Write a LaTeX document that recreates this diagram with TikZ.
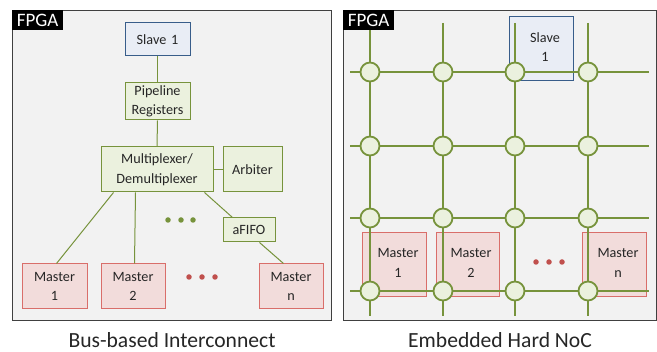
\documentclass[tikz,border=0pt]{standalone}
\usepackage{fontspec}
\setmainfont{Carlito}
\definecolor{gline}{RGB}{119,147,60}
\definecolor{gfill}{RGB}{235,241,222}
\definecolor{bdraw}{RGB}{56,93,138}
\definecolor{bfill}{RGB}{233,237,245}
\definecolor{rdraw}{RGB}{217,110,106}
\definecolor{rfill}{RGB}{242,220,219}
\definecolor{rdot}{RGB}{192,80,77}
\definecolor{panelbg}{RGB}{242,242,242}
\begin{document}
\begin{tikzpicture}[x=1pt,y=-1pt,
  panel/.style={draw=black!75, line width=1.2pt, fill=panelbg, anchor=north west, inner sep=0pt},
  tag/.style={fill=black, text=white, font=\fontsize{19}{19}\selectfont, inner sep=0pt, minimum width=51pt, minimum height=20pt, anchor=north west},
  blk/.style={inner sep=0pt, align=center, font=\fontsize{14.2}{19.5}\selectfont, line width=1pt, text=black!85},
  gbox/.style={blk, draw=gline, fill=gfill},
  bbox/.style={blk, draw=bdraw, fill=bfill},
  rbox/.style={blk, draw=rdraw, fill=rfill},
  link/.style={draw=gline, line width=1pt},
  gridline/.style={draw=gline, line width=1.3pt},
  router/.style={circle, draw=gline, fill=gfill, line width=1.8pt, minimum size=19pt, inner sep=0pt},
  gdot/.style={circle, fill=gline, minimum size=5.5pt, inner sep=0pt},
  rdotn/.style={circle, fill=rdot, minimum size=5.5pt, inner sep=0pt},
  captxt/.style={font=\fontsize{21.6}{21.6}\selectfont, text=black!85}
]
\useasboundingbox (0,0) rectangle (657,352);
\fill[white] (0,0) rectangle (657,352);

% ---------- left panel ----------
\node[panel, minimum width=319pt, minimum height=310pt] (P1) at (12,10) {};
\node[tag] (T1) at (12,10) {FPGA};

\node[bbox, minimum width=65pt, minimum height=33pt] (S1) at (157.5,39.5) {Slave\,\,1};
\node[gbox, minimum width=65pt, minimum height=37pt] (PR) at (157.5,101.5) {Pipeline\\Registers};
\node[gbox, minimum width=112pt, minimum height=45pt] (MX) at (157,169.5) {Multiplexer/\\Demultiplexer};
\node[gbox, minimum width=59pt, minimum height=45pt] (AR) at (252.5,169.5) {Arbiter};
\node[gbox, minimum width=52pt, minimum height=24pt] (AF) at (249,230) {aFIFO};
\node[rbox, minimum width=65pt, minimum height=45pt] (M1) at (54.5,286.5) {Master\\1};
\node[rbox, minimum width=64pt, minimum height=45pt] (M2) at (133,286.5) {Master\\2};
\node[rbox, minimum width=64pt, minimum height=45pt] (Mn) at (291,286.5) {Master\\n};

\draw[link] (S1.south) -- (PR.north);
\draw[link] (PR.south) -- (MX.north);
\draw[link] (MX.east) -- (AR.west);
\draw[link] ([xshift=13pt]MX.south west) -- ([xshift=35pt]M1.north west);
\draw[link] ([xshift=35pt]MX.south west) -- ([xshift=34pt]M2.north west);
\draw[link] ([xshift=-9pt]MX.south east) -- ([xshift=10pt]AF.north west);
\draw[link] ([xshift=37pt]AF.south west) -- ([xshift=25pt]Mn.north west);

\node[gdot] (g1) at (168,220) {};
\node[gdot] (g2) at (181,220) {};
\node[gdot] (g3) at (193,220) {};
\node[rdotn] (r1) at (189,277) {};
\node[rdotn] (r2) at (202,277) {};
\node[rdotn] (r3) at (215,277) {};

\node[captxt] (C1) at (172,340) {Bus-based Interconnect};

% ---------- right panel ----------
\node[panel, minimum width=313pt, minimum height=310pt] (P2) at (343,10) {};

\node[bbox, minimum width=64pt, minimum height=64pt] (RS) at (541,49) {};
\node[rbox, minimum width=64pt, minimum height=64pt] (RM1) at (394,265) {};
\node[rbox, minimum width=63pt, minimum height=64pt] (RM2) at (467.5,265) {};
\node[rbox, minimum width=64pt, minimum height=64pt] (RMn) at (614,265) {};

\foreach \i/\x in {1/370,2/443,3/515,4/588}{
  \coordinate (vt\i) at (\x,23);
  \coordinate (vb\i) at (\x,316);
  \draw[gridline] (vt\i) -- (vb\i);
}
\foreach \j/\y in {1/72,2/146,3/218,4/291}{
  \coordinate (hl\j) at (350,\y);
  \coordinate (hr\j) at (649,\y);
  \draw[gridline] (hl\j) -- (hr\j);
}
\foreach \i/\x in {1/370,2/443,3/515,4/588}{
  \foreach \j/\y in {1/72,2/146,3/218,4/291}{
    \node[router] (n\i\j) at (\x,\y) {};
  }
}
% texts on top of lines
\node[blk] (RSt) at (545,47) {Slave\\1};
\node[blk] (RM1t) at (398,263) {Master\\1};
\node[blk] (RM2t) at (471,263) {Master\\2};
\node[blk] (RMnt) at (618,263) {Master\\n};

\node[rdotn] (q1) at (536,262) {};
\node[rdotn] (q2) at (549,262) {};
\node[rdotn] (q3) at (562,262) {};

\node[tag] (T2) at (343,10) {FPGA};

\node[captxt] (C2) at (500,340) {Embedded Hard NoC};
\end{tikzpicture}
\end{document}
